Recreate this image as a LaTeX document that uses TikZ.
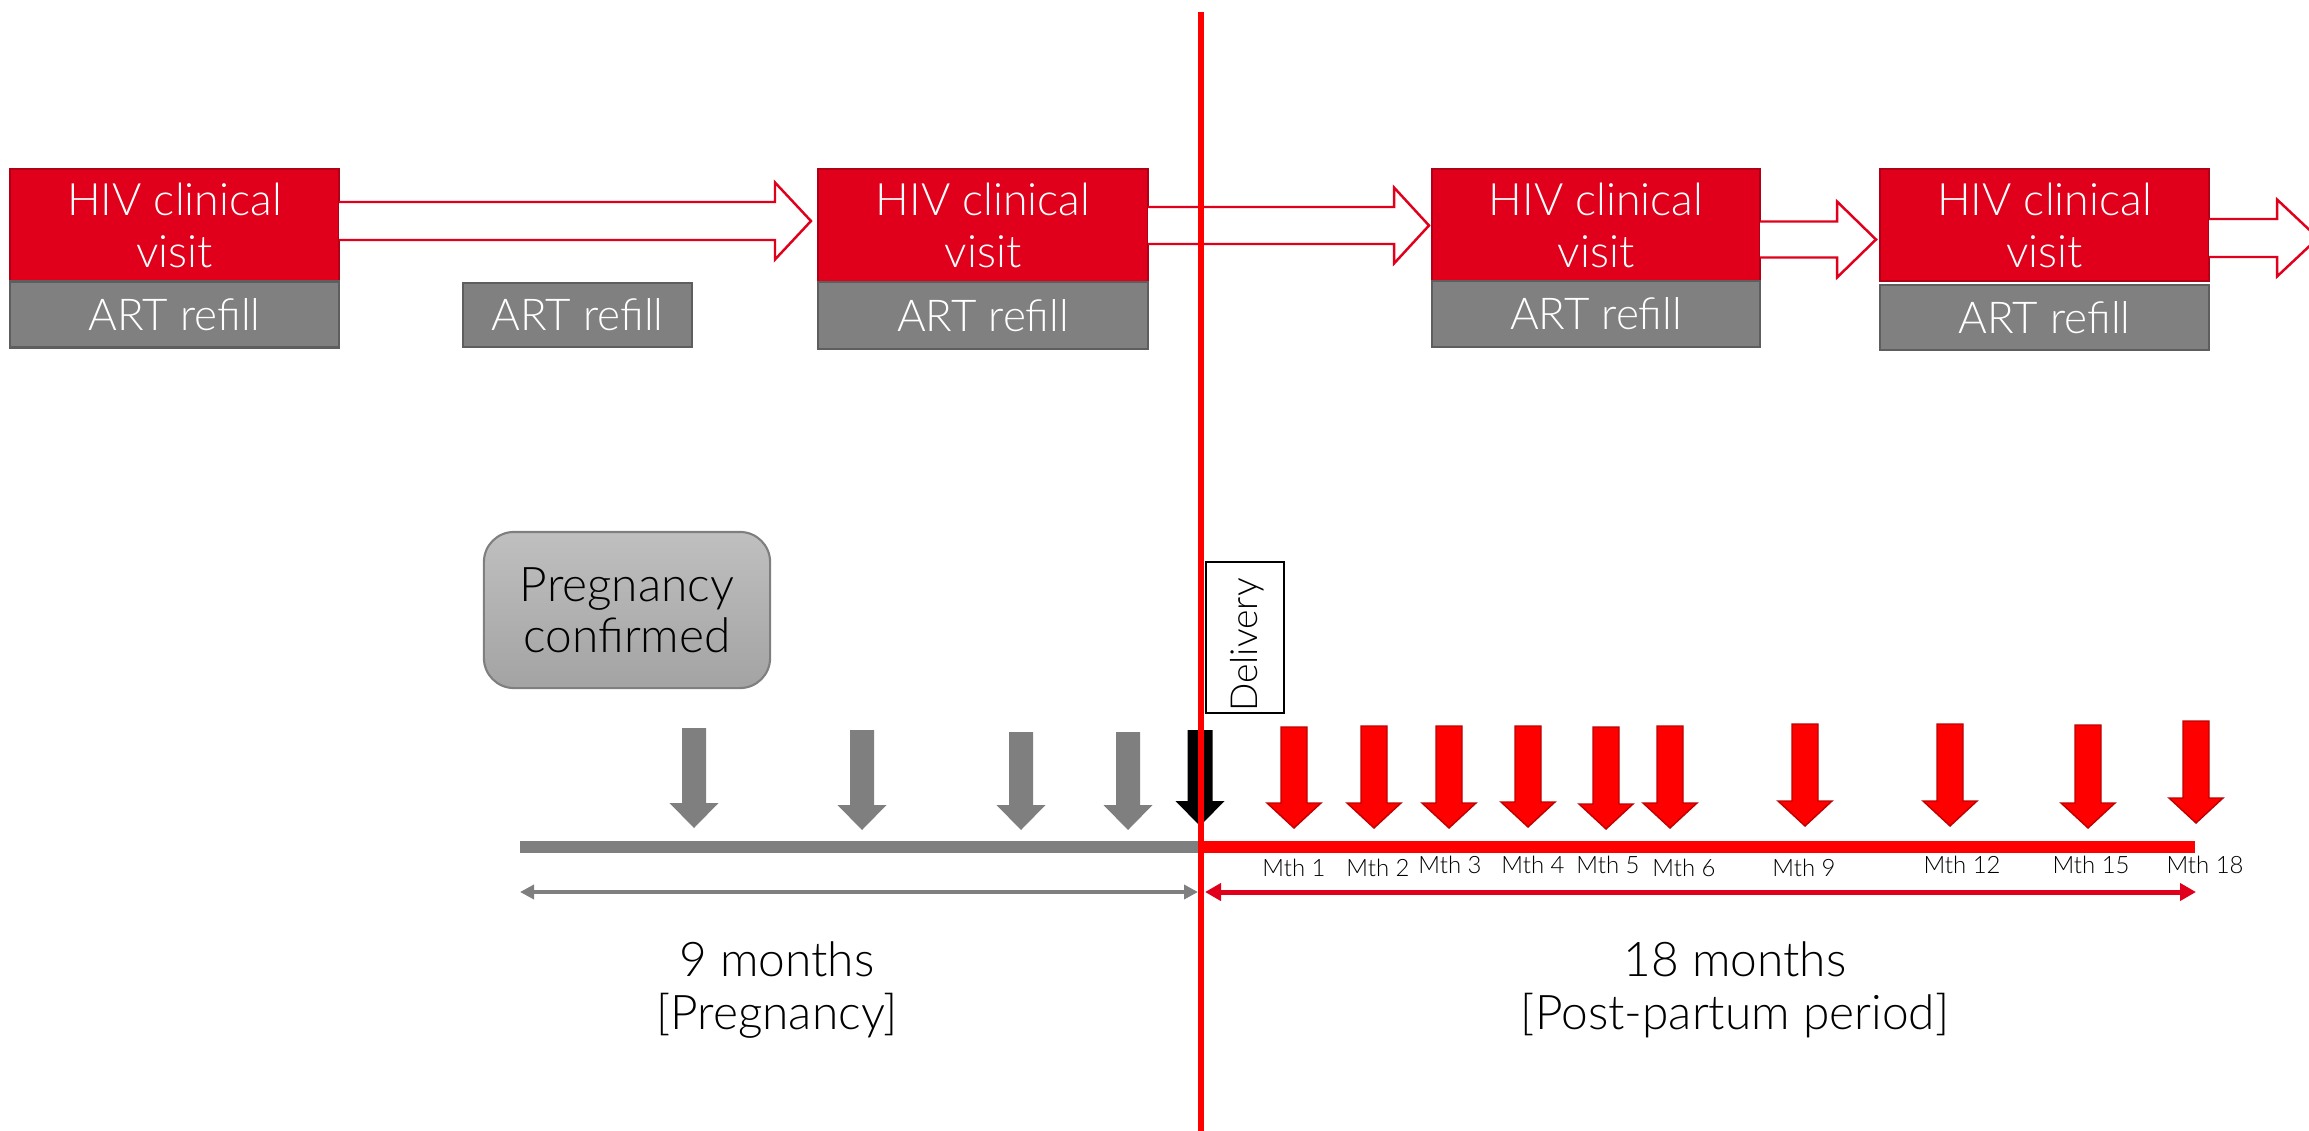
\documentclass[tikz,border=0pt]{standalone}
\usepackage{fontspec}
\IfFontExistsTF{Lato Light}{\setmainfont{Lato Light}}{\setmainfont{Lato}}
\usetikzlibrary{arrows.meta,calc}

\definecolor{hivred}{HTML}{E0001B}
\definecolor{hivredline}{HTML}{B00016}
\definecolor{refillgray}{HTML}{808080}
\definecolor{refillline}{HTML}{5E5E5E}
\definecolor{markgray}{HTML}{7F7F7F}
\definecolor{pureRed}{HTML}{FF0000}
\definecolor{redline}{HTML}{C00000}

% open block arrow between two visit boxes: x-start, x-tip, y-centre, shaft half, head half, head length
\newcommand\hollowarrow[6]{%
  \draw[hollowline] (#1,#3-#4) -- (#2-#6,#3-#4) -- (#2-#6,#3-#5) -- (#2,#3)
    -- (#2-#6,#3+#5) -- (#2-#6,#3+#4) -- (#1,#3+#4);}
% solid downward block arrow: style, x-centre, y-top, y-tip, shaft half, head half, head length
\newcommand\blockdown[7]{%
  \path[#1] (#2-#5,#3) -- (#2+#5,#3) -- (#2+#5,#4-#7) -- (#2+#6,#4-#7) -- (#2,#4)
    -- (#2-#6,#4-#7) -- (#2-#5,#4-#7) -- cycle;}

\begin{document}
\begin{tikzpicture}[x=0.01cm,y=-0.01cm,
  visitbox/.style={fill=hivred,draw=hivredline,line width=0.6pt,inner sep=0pt,
    text=white,align=center,font=\fontsize{12.7}{14.8}\selectfont},
  refillbox/.style={fill=refillgray,draw=refillline,line width=0.6pt,inner sep=0pt,
    text=white,align=center,font=\fontsize{12.5}{14.8}\selectfont},
  hollowline/.style={draw=hivred,fill=white,line width=0.7pt,line join=miter},
  grayarrow/.style={fill=markgray},
  blackarrow/.style={fill=black},
  redarrow/.style={fill=pureRed,draw=redline,line width=0.4pt},
  mthlabel/.style={font=\fontsize{6.8}{8}\selectfont,inner sep=0pt},
  spanlabel/.style={font=\fontsize{13.6}{15.2}\selectfont,align=center,inner sep=0pt},
]
\useasboundingbox (0,0) rectangle (2309,1130);

% ---- visit and refill boxes ----
\node[visitbox,minimum width=3.29cm,minimum height=1.12cm] (hiv1) at (174.5,225) {HIV clinical\\visit};
\node[refillbox,minimum width=3.29cm,minimum height=0.66cm] (art1) at (174.5,314.5) {ART refill};
\node[refillbox,minimum width=2.29cm,minimum height=0.64cm] (art1b) at (577.5,315) {ART refill};
\node[visitbox,minimum width=3.30cm,minimum height=1.13cm] (hiv2) at (983,225.5) {HIV clinical\\visit};
\node[refillbox,minimum width=3.30cm,minimum height=0.67cm] (art2) at (983,315.5) {ART refill};
\node[visitbox,minimum width=3.28cm,minimum height=1.12cm] (hiv3) at (1596,225) {HIV clinical\\visit};
\node[refillbox,minimum width=3.28cm,minimum height=0.66cm] (art3) at (1596,314) {ART refill};
\node[visitbox,minimum width=3.29cm,minimum height=1.12cm] (hiv4) at (2044.5,225) {HIV clinical\\visit};
\node[refillbox,minimum width=3.29cm,minimum height=0.65cm] (art4) at (2044.5,317.5) {ART refill};

% ---- open arrows between visits ----
\hollowarrow{339}{811}{221}{19}{38.5}{36}
\hollowarrow{1148}{1429}{225.5}{18.5}{38}{35}
\hollowarrow{1760}{1876}{239.5}{18}{38}{39}
\hollowarrow{2209}{2318}{238}{19}{38.5}{41}

% ---- pregnancy confirmed ----
\node[draw=markgray,line width=0.6pt,rounded corners=0.3cm,top color=black!25,bottom color=black!36,
  minimum width=2.86cm,minimum height=1.56cm,align=center,inner sep=0pt,
  font=\fontsize{13.6}{14.4}\selectfont] (preg) at (627,610) {Pregnancy\\confirmed};

% ---- timeline bars ----
\coordinate (pgStart) at (520,847);
\coordinate (pgEnd) at (1200,847);
\coordinate (ppEnd) at (2195,847);
\draw[markgray,line width=0.12cm] (pgStart) -- (pgEnd);
\draw[pureRed,line width=0.12cm] (pgEnd) -- (ppEnd);

% ---- antenatal visits ----
\blockdown{grayarrow}{694}{728}{828}{12}{24.5}{25}
\blockdown{grayarrow}{862}{730}{830}{12}{24.5}{25}
\blockdown{grayarrow}{1021}{732}{830}{12}{24.5}{25}
\blockdown{grayarrow}{1128}{732}{830}{12}{24.5}{25}
\blockdown{blackarrow}{1200}{730}{826}{12.5}{24.5}{25}

% ---- post-partum visits ----
\blockdown{redarrow}{1294}{727}{828}{13}{27}{25}
\blockdown{redarrow}{1374}{726}{828}{13}{27}{25}
\blockdown{redarrow}{1449}{726}{828}{13}{27}{25}
\blockdown{redarrow}{1528}{726}{827}{13}{27}{25}
\blockdown{redarrow}{1606}{727}{829}{13}{27}{25}
\blockdown{redarrow}{1670}{726}{828}{13}{27}{25}
\blockdown{redarrow}{1805}{724}{826}{13}{27}{25}
\blockdown{redarrow}{1950}{724}{826}{13}{27}{25}
\blockdown{redarrow}{2088}{725}{828}{13}{27}{25}
\blockdown{redarrow}{2196}{721}{823}{13}{27}{25}

% ---- month labels ----
\node[mthlabel] (m1) at (1294,868) {Mth 1};
\node[mthlabel] (m2) at (1378,868) {Mth 2};
\node[mthlabel] (m3) at (1450,865) {Mth 3};
\node[mthlabel] (m4) at (1533,865) {Mth 4};
\node[mthlabel] (m5) at (1608,865) {Mth 5};
\node[mthlabel] (m6) at (1684,868) {Mth 6};
\node[mthlabel] (m9) at (1804,868) {Mth 9};
\node[mthlabel] (m12) at (1962,865) {Mth 12};
\node[mthlabel] (m15) at (2091,865) {Mth 15};
\node[mthlabel] (m18) at (2205,865) {Mth 18};

% ---- period spans ----
\coordinate (spanA) at (520,892);
\coordinate (spanB) at (1198,892);
\coordinate (spanC) at (1205,892);
\coordinate (spanD) at (2196,892);
\draw[markgray,line width=0.035cm,{Triangle[length=0.14cm,width=0.14cm]}-{Triangle[length=0.14cm,width=0.14cm]}] (spanA) -- (spanB);
\draw[hivred,line width=0.05cm,{Triangle[length=0.16cm,width=0.17cm]}-{Triangle[length=0.16cm,width=0.17cm]}] (spanC) -- (spanD);

\node[spanlabel] (preglabel) at (777,990) {9 months\\{}[Pregnancy]};
\node[spanlabel] (pplabel) at (1735,990) {18 months\\{}[Post-partum period]};

% ---- delivery marker ----
\coordinate (delTop) at (1201,12);
\coordinate (delBot) at (1201,1135);
\draw[pureRed,line width=0.06cm] (delTop) -- (delBot);
\node[draw=black,fill=white,line width=0.6pt,minimum width=0.78cm,minimum height=1.51cm,
  inner sep=0pt] (delivery) at (1245,637.5) {};
\node[rotate=90,inner sep=0pt,font=\fontsize{10.6}{12}\selectfont] (deliverytext) at (1247,645) {Delivery};
\end{tikzpicture}
\end{document}
